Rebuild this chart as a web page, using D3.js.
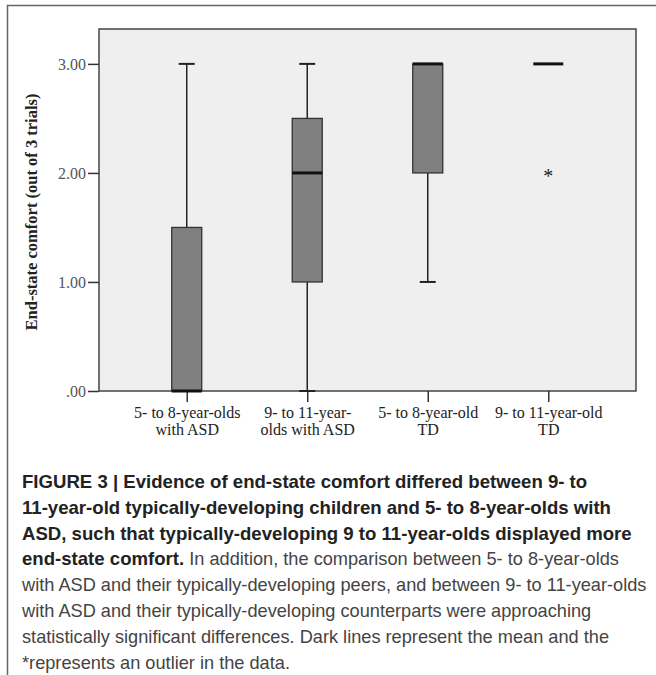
<!DOCTYPE html>
<html>
<head>
<meta charset="utf-8">
<script src="https://cdn.jsdelivr.net/npm/d3@7"></script>
<style>
  body { margin: 0; background: #fff; }
  svg { display: block; }
</style>
</head>
<body>
<div id="chart"></div>
<script>
// group labels (two lines each)
const categories = [
  ["5- to 8-year-olds", "with ASD"],
  ["9- to 11-year-", "olds with ASD"],
  ["5- to 8-year-old", "TD"],
  ["9- to 11-year-old", "TD"]
];
// box plot values per group
const mins     = [0, 0, 1, 3];
const q1s      = [0, 1, 2, 3];
const medians  = [0, 2, 3, 3];
const q3s      = [1.5, 2.5, 3, 3];
const maxs     = [3, 3, 3, 3];
const outliers = [[], [], [], [2]];
const yTicks   = [0, 1, 2, 3];

const captionLines = [
  [{ b: true, t: "FIGURE 3 | Evidence of end-state comfort differed between 9- to" }],
  [{ b: true, t: "11-year-old typically-developing children and 5- to 8-year-olds with" }],
  [{ b: true, t: "ASD, such that typically-developing 9 to 11-year-olds displayed more" }],
  [{ b: true, t: "end-state comfort." }, { b: false, t: " In addition, the comparison between 5- to 8-year-olds" }],
  [{ b: false, t: "with ASD and their typically-developing peers, and between 9- to 11-year-olds" }],
  [{ b: false, t: "with ASD and their typically-developing counterparts were approaching" }],
  [{ b: false, t: "statistically significant differences. Dark lines represent the mean and the" }],
  [{ b: false, t: "*represents an outlier in the data." }]
];

const data = categories.map((c, i) => ({
  key: i, label: c, min: mins[i], q1: q1s[i], median: medians[i],
  q3: q3s[i], max: maxs[i], outliers: outliers[i]
}));

const width = 656, height = 675;
const plot = { left: 99, right: 636, top: 29, bottom: 391 };
const serif = "'Liberation Serif', 'DejaVu Serif', serif";

const svg = d3.select("#chart").append("svg")
  .attr("width", width)
  .attr("height", height);

// outer figure frame (top + left)
svg.append("path")
  .attr("d", `M7.5,${height} V5.5 H${width}`)
  .attr("fill", "none")
  .attr("stroke", "#666")
  .attr("stroke-width", 1.5);

const xScale = d3.scalePoint()
  .domain(data.map(d => d.key))
  .range([plot.left, plot.right])
  .padding(0.728);

const yScale = d3.scaleLinear()
  .domain([0, 3.32])
  .range([plot.bottom, plot.top]);

// plot background
svg.append("rect")
  .attr("x", plot.left)
  .attr("y", plot.top)
  .attr("width", plot.right - plot.left)
  .attr("height", plot.bottom - plot.top)
  .attr("fill", "#efefef")
  .attr("stroke", "#444")
  .attr("stroke-width", 1.5);

// y axis
const yAxis = svg.append("g")
  .attr("transform", `translate(${plot.left},0)`)
  .call(d3.axisLeft(yScale)
    .tickValues(yTicks)
    .tickSize(11)
    .tickPadding(2)
    .tickFormat(d => d === 0 ? ".00" : d3.format(".2f")(d)));
yAxis.select(".domain").remove();
yAxis.selectAll("line").attr("stroke", "#333").attr("stroke-width", 1.5);
yAxis.selectAll("text")
  .attr("font-family", serif)
  .attr("font-size", 16)
  .attr("fill", "#555");

// x axis
const xAxis = svg.append("g")
  .attr("transform", `translate(0,${plot.bottom})`)
  .call(d3.axisBottom(xScale).tickSize(11).tickFormat(""));
xAxis.select(".domain").remove();
xAxis.selectAll("line").attr("stroke", "#333").attr("stroke-width", 1.5);

xAxis.selectAll(".tick").append("text")
  .attr("font-family", serif)
  .attr("font-size", 16)
  .attr("fill", "#222")
  .attr("text-anchor", "middle")
  .selectAll("tspan")
  .data(d => categories[d])
  .join("tspan")
    .attr("x", 0)
    .attr("y", (d, i) => 27 + i * 17)
    .text(d => d);

// y axis title
svg.append("text")
  .attr("transform", `translate(37,${(plot.top + plot.bottom) / 2 + 2}) rotate(-90)`)
  .attr("text-anchor", "middle")
  .attr("font-family", serif)
  .attr("font-weight", "bold")
  .attr("font-size", 16.5)
  .attr("fill", "#222")
  .text("End-state comfort (out of 3 trials)");

// boxes
const boxW = 30, capW = 16;
const groups = svg.append("g").selectAll("g")
  .data(data)
  .join("g")
    .attr("transform", d => `translate(${xScale(d.key)},0)`);

// whiskers
groups.each(function(d) {
  const g = d3.select(this);
  const segs = [];
  if (d.max > d.q3) segs.push([d.q3, d.max]);
  if (d.min < d.q1) segs.push([d.min, d.q1]);
  segs.forEach(([a, b]) => {
    g.append("line")
      .attr("x1", 0).attr("x2", 0)
      .attr("y1", yScale(a)).attr("y2", yScale(b))
      .attr("stroke", "#222").attr("stroke-width", 1.5);
  });
  const caps = [];
  if (d.max > d.q3) caps.push(d.max);
  if (d.min < d.q1) caps.push(d.min);
  caps.forEach(v => {
    g.append("line")
      .attr("x1", -capW / 2).attr("x2", capW / 2)
      .attr("y1", yScale(v)).attr("y2", yScale(v))
      .attr("stroke", "#222").attr("stroke-width", 2);
  });
});

groups.filter(d => d.q3 > d.q1).append("rect")
  .attr("x", -boxW / 2)
  .attr("y", d => yScale(d.q3))
  .attr("width", boxW)
  .attr("height", d => yScale(d.q1) - yScale(d.q3))
  .attr("fill", "#808080")
  .attr("stroke", "#333")
  .attr("stroke-width", 1.3);

groups.append("line")
  .attr("x1", -boxW / 2).attr("x2", boxW / 2)
  .attr("y1", d => yScale(d.median)).attr("y2", d => yScale(d.median))
  .attr("stroke", "#111")
  .attr("stroke-width", 3);

groups.selectAll(".outlier")
  .data(d => d.outliers)
  .join("text")
    .attr("class", "outlier")
    .attr("x", 0)
    .attr("y", v => yScale(v) + 10)
    .attr("text-anchor", "middle")
    .attr("font-family", serif)
    .attr("font-size", 20)
    .attr("fill", "#222")
    .text("*");

// caption
const caption = svg.append("text")
  .attr("font-family", "'Liberation Sans', Arial, sans-serif");

captionLines.forEach((line, i) => {
  line.forEach((part, j) => {
    const ts = caption.append("tspan")
      .attr("font-weight", part.b ? "bold" : "normal")
      .attr("font-size", part.b ? 18.6 : 18.2)
      .attr("fill", part.b ? "#222" : "#444")
      .text(part.t);
    if (j === 0) ts.attr("x", 22).attr("y", 488 + i * 25.8);
  });
});
</script>
</body>
</html>
